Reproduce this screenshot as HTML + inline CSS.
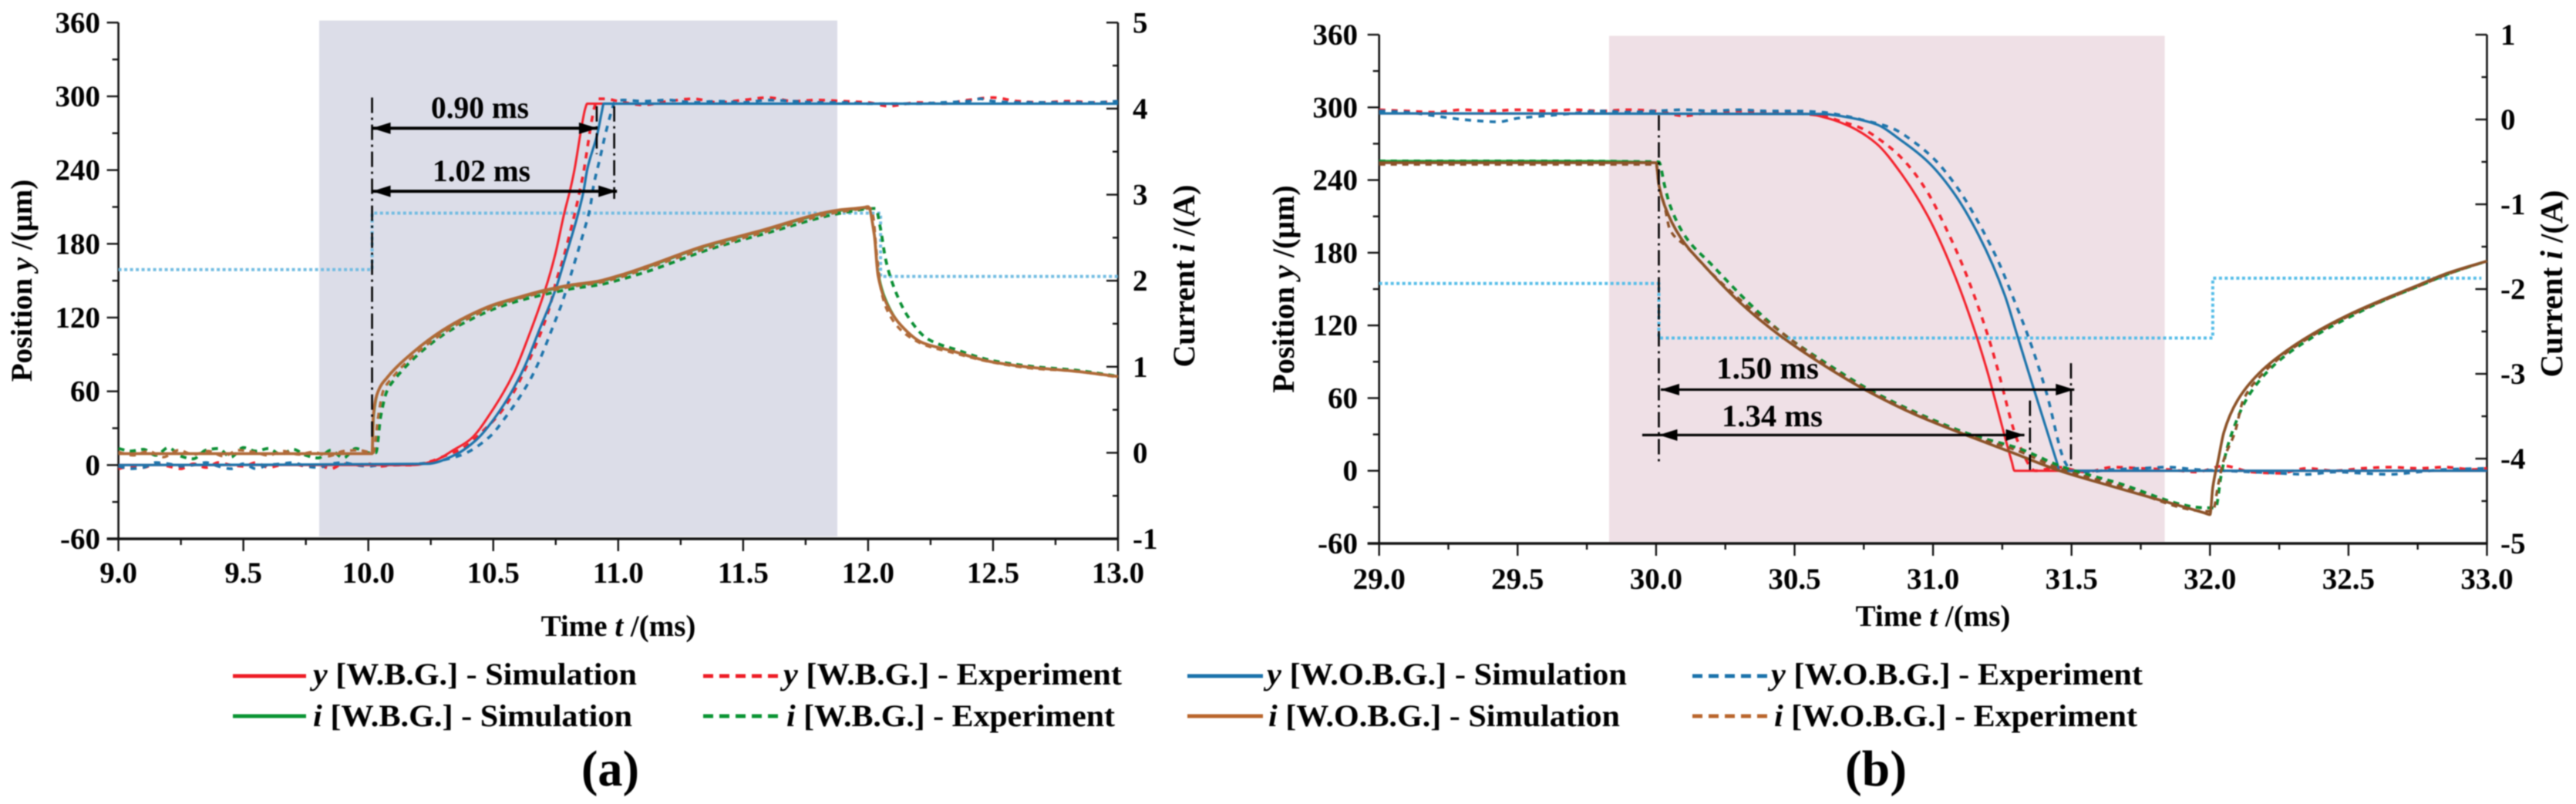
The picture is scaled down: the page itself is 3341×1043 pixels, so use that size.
<!DOCTYPE html>
<html lang="en"><head><meta charset="utf-8"><title>Position and current response</title>
<style>
html,body{margin:0;padding:0;background:#fff}
svg{display:block;filter:blur(0.7px)}
text{font-family:"Liberation Serif",serif;font-weight:bold;fill:#000}
</style></head>
<body>
<svg id="fig" xmlns="http://www.w3.org/2000/svg" width="3341" height="1043" viewBox="0 0 3341 1043">
<rect width="3341" height="1043" fill="#fff"/>
<g id="panelA"></g>
<g id="panelB"></g>

<text x="802" y="825" font-size="39" text-anchor="middle">Time <tspan font-style="italic">t</tspan> /(ms)</text>
<text x="2507" y="812" font-size="39" text-anchor="middle">Time <tspan font-style="italic">t</tspan> /(ms)</text>
<text transform="translate(41,364) rotate(-90)" font-size="39" text-anchor="middle">Position <tspan font-style="italic">y</tspan> /(μm)</text>
<text transform="translate(1549,358) rotate(-90)" font-size="40" text-anchor="middle">Current <tspan font-style="italic">i</tspan> /(A)</text>
<text transform="translate(1678,375) rotate(-90)" font-size="40" text-anchor="middle">Position <tspan font-style="italic">y</tspan> /(μm)</text>
<text transform="translate(3323,368) rotate(-90)" font-size="41" text-anchor="middle">Current <tspan font-style="italic">i</tspan> /(A)</text>

<text x="559" y="153" font-size="40" textLength="127" lengthAdjust="spacingAndGlyphs">0.90 ms</text>
<text x="561" y="235" font-size="40" textLength="127" lengthAdjust="spacingAndGlyphs">1.02 ms</text>
<text x="2226" y="491" font-size="40" textLength="133" lengthAdjust="spacingAndGlyphs">1.50 ms</text>
<text x="2233" y="553" font-size="40" textLength="131" lengthAdjust="spacingAndGlyphs">1.34 ms</text>

<g>
<g><line x1="302" y1="877" x2="397" y2="877" stroke="#ee1c25" stroke-width="5"/><text x="406" y="888" font-size="40" textLength="420" lengthAdjust="spacingAndGlyphs"><tspan font-style="italic">y</tspan> [W.B.G.] - Simulation</text></g>
<g><line x1="912" y1="877" x2="1009" y2="877" stroke="#ee1c25" stroke-width="5" stroke-dasharray="13 8"/><text x="1016" y="888" font-size="40" textLength="439" lengthAdjust="spacingAndGlyphs"><tspan font-style="italic">y</tspan> [W.B.G.] - Experiment</text></g>
<g><line x1="1540" y1="877" x2="1638" y2="877" stroke="#1a72ab" stroke-width="5"/><text x="1643" y="888" font-size="40" textLength="467" lengthAdjust="spacingAndGlyphs"><tspan font-style="italic">y</tspan> [W.O.B.G.] - Simulation</text></g>
<g><line x1="2195" y1="877" x2="2293" y2="877" stroke="#1a72ab" stroke-width="5" stroke-dasharray="13 8"/><text x="2297" y="888" font-size="40" textLength="482" lengthAdjust="spacingAndGlyphs"><tspan font-style="italic">y</tspan> [W.O.B.G.] - Experiment</text></g>
<g><line x1="302" y1="929" x2="397" y2="929" stroke="#0a9433" stroke-width="5"/><text x="406" y="942" font-size="40" textLength="414" lengthAdjust="spacingAndGlyphs"><tspan font-style="italic">i</tspan> [W.B.G.] - Simulation</text></g>
<g><line x1="912" y1="929" x2="1009" y2="929" stroke="#0a9433" stroke-width="5" stroke-dasharray="13 8"/><text x="1020" y="942" font-size="40" textLength="426" lengthAdjust="spacingAndGlyphs"><tspan font-style="italic">i</tspan> [W.B.G.] - Experiment</text></g>
<g><line x1="1540" y1="929" x2="1638" y2="929" stroke="#b9652c" stroke-width="5"/><text x="1645" y="942" font-size="40" textLength="456" lengthAdjust="spacingAndGlyphs"><tspan font-style="italic">i</tspan> [W.O.B.G.] - Simulation</text></g>
<g><line x1="2195" y1="929" x2="2293" y2="929" stroke="#b9652c" stroke-width="5" stroke-dasharray="13 8"/><text x="2301" y="942" font-size="40" textLength="471" lengthAdjust="spacingAndGlyphs"><tspan font-style="italic">i</tspan> [W.O.B.G.] - Experiment</text></g>
</g>
<text x="754" y="1019" font-size="66" textLength="75" lengthAdjust="spacingAndGlyphs">(a)</text>
<text x="2393" y="1019" font-size="66" textLength="80" lengthAdjust="spacingAndGlyphs">(b)</text>
</svg>
<script>
// ---------- Panel (a) data: time in ms, y in um, i in A ----------
const aXTicks=[9,9.5,10,10.5,11,11.5,12,12.5,13];
const aXTickLabels=["9.0","9.5","10.0","10.5","11.0","11.5","12.0","12.5","13.0"];
const aLeftTicks=[-60,0,60,120,180,240,300,360];
const aRightTicks=[-1,0,1,2,3,4,5];

const aYWbgSimT=[9,10.18,10.257,10.344,10.408,10.501,10.583,10.645,10.707,10.748,10.784,10.81,10.825,10.855,10.868,10.876,13];
const aYWbgSimV=[0,0,3,12.6,20.9,46,75.3,106.6,142.1,171.4,204.8,225.8,240.4,277,290,294,294];
const aYNoSimT=[9,10.236,10.344,10.434,10.532,10.624,10.686,10.748,10.789,10.84,10.861,10.876,10.917,10.935,10.942,13];
const aYNoSimV=[0,1,8,20.9,46,79.4,110.8,142.1,169.3,204.8,222.6,240.4,269.7,288,294,294];

const aYWbgExpT=[9,9.05,9.1,9.15,9.2,9.25,9.3,9.35,9.4,9.45,9.5,9.55,9.6,9.65,9.7,9.75,9.8,9.85,9.9,9.95,10,10.05,10.1,10.17,10.25,10.3,10.37,10.46,10.541,10.675,10.727,10.753,10.78,10.806,10.83,10.85,10.861,10.876,10.892,10.907,10.92,10.95,11,11.1,11.2,11.3,11.4,11.5,11.6,11.7,11.8,11.9,12,12.08,12.2,12.3,12.4,12.5,12.6,12.7,12.8,12.9,13];
const aYWbgExpV=[-3,-1,-2,1,-1,-3,1,-2,2,0,-1,2,-2,0,1,-1,0,-3,1,0,1,-1,0,0,3,7,13,28,46,100,129.6,150.5,168,188,208,226.8,238,257,278,292.6,298,298,296,293,296,298,295,297,299,296,297,296,295,292,295,294,297,299,296,295,296,295,296];
const aYNoExpT=[9,9.05,9.1,9.15,9.2,9.25,9.3,9.35,9.4,9.45,9.5,9.55,9.6,9.65,9.7,9.75,9.8,9.85,9.9,9.95,10,10.05,10.1,10.2,10.27,10.37,10.485,10.552,10.609,10.66,10.701,10.737,10.773,10.804,10.832,10.861,10.887,10.902,10.926,10.948,10.974,10.985,11.02,11.1,11.2,11.3,11.4,11.5,11.6,11.7,11.8,11.9,12,12.1,12.2,12.3,12.4,12.45,12.5,12.6,12.7,12.8,12.9,13];
const aYNoExpV=[-1,-3,-2,2,1,-1,0,2,-1,-3,1,-3,0,1,2,-1,-2,1,2,0,-1,0,0,1,3,8,23,39.7,56.4,74.2,93,111.8,130.6,150.5,169.3,189.1,209,227.8,248.7,268.6,288.5,295,297,296,297,295,296,295,297,296,295,295,294,294,294,295,296,298,296,295,295,295,295,296];

const aIWbgSimT=[9,10.015,10.022,10.04,10.074,10.18,10.295,10.398,10.5,10.604,10.707,10.81,10.912,11.015,11.118,11.34,11.556,11.88,11.98,12,12.025,12.04,12.08,12.135,12.217,12.328,12.49,12.66,12.82,13];
const aIWbgSimV=[-0.01,-0.01,0.43,0.72,0.87,1.17,1.41,1.58,1.71,1.8,1.88,1.94,1.98,2.06,2.16,2.39,2.56,2.81,2.84,2.85,2.55,2.1,1.72,1.47,1.28,1.19,1.06,0.99,0.95,0.886];
const aINoSimT=[9,10.015,10.02,10.04,10.074,10.18,10.295,10.398,10.5,10.604,10.707,10.81,10.912,11.015,11.118,11.34,11.556,11.88,11.98,12,12.025,12.04,12.08,12.135,12.217,12.328,12.49,12.66,12.82,13];
const aINoSimV=[-0.01,-0.01,0.43,0.72,0.87,1.17,1.42,1.59,1.72,1.81,1.89,1.95,1.99,2.07,2.17,2.4,2.57,2.82,2.85,2.86,2.53,2.06,1.7,1.47,1.28,1.19,1.06,0.99,0.95,0.886];
const aIWbgExpT=[9,9.05,9.1,9.15,9.2,9.25,9.3,9.35,9.4,9.45,9.5,9.55,9.6,9.65,9.7,9.75,9.8,9.85,9.9,9.95,10,10.03,10.05,10.075,10.11,10.21,10.31,10.41,10.51,10.62,10.72,10.82,10.92,11.03,11.13,11.37,11.59,11.9,12.03,12.05,12.07,12.1,12.16,12.24,12.35,12.5,12.67,12.83,13];
const aIWbgExpV=[0.05,0.02,0.04,-0.03,0.06,-0.04,-0.07,0.03,0.05,-0.05,0.06,0.02,0.05,-0.02,0.04,-0.03,-0.06,0.03,-0.06,0.05,0,0,0.43,0.72,0.87,1.17,1.39,1.55,1.68,1.78,1.85,1.91,1.95,2.03,2.12,2.37,2.55,2.79,2.84,2.6,2.25,1.95,1.58,1.32,1.2,1.07,1,0.96,0.89];
const aINoExpT=[9,9.06,9.12,9.18,9.24,9.3,9.36,9.42,9.48,9.54,9.6,9.66,9.72,9.78,9.84,9.9,9.96,10.02,10.04,10.06,10.095,10.19,10.3,10.4,10.5,10.6,10.71,10.81,10.91,11.02,11.12,11.36,11.58,11.89,12.01,12.02,12.035,12.055,12.09,12.15,12.23,12.33,12.5,12.66,12.82,13];
const aINoExpV=[0.01,-0.03,0.02,-0.05,0.03,-0.02,0.02,-0.04,0.03,0.01,-0.03,0.02,-0.02,0.01,-0.04,0.02,0.03,0,0.43,0.72,0.87,1.15,1.39,1.56,1.69,1.79,1.87,1.93,1.97,2.05,2.15,2.38,2.56,2.8,2.84,2.75,2.3,1.85,1.58,1.38,1.25,1.17,1.05,0.98,0.95,0.88];

const aDriveT=[9,10.015,10.015,12.05,12.05,13];
const aDriveV=[159,159,205,205,153.5,153.5];

// ---------- Panel (b) data ----------
const bXTicks=[29,29.5,30,30.5,31,31.5,32,32.5,33];
const bXTickLabels=["29.0","29.5","30.0","30.5","31.0","31.5","32.0","32.5","33.0"];
const bLeftTicks=[-60,0,60,120,180,240,300,360];
const bRightTicks=[-5,-4,-3,-2,-1,0,1];

const bYWbgSimT=[29,30.54,30.62,30.702,30.795,30.887,30.98,31.073,31.157,31.194,31.285,31.294,31.46,33];
const bYWbgSimV=[295,294.6,291,284,270.2,244.8,210.8,164.2,111.1,83.6,6.8,0,0,0];
const bYNoSimT=[29,30.6,30.702,30.795,30.887,30.98,31.073,31.166,31.259,31.305,31.342,31.447,31.457,33];
const bYNoSimV=[295,294.5,291.4,286,272.4,255.4,230,193.9,145,111,83.6,7,0,0];

const bYWbgExpT=[29,29.1,29.2,29.3,29.4,29.5,29.6,29.7,29.8,29.9,30,30.1,30.2,30.3,30.4,30.5,30.6,30.66,30.739,30.822,30.894,30.98,31.047,31.107,31.158,31.203,31.23,31.31,31.37,31.45,31.55,31.65,31.75,31.85,31.95,32.05,32.15,32.25,32.35,32.45,32.55,32.65,32.75,32.85,32.95,33];
const bYWbgExpV=[298,297,296,298,297,298,297,298,297,298,297,293,296,297,296,295,293,289,283,271,256.4,230,200,169.5,138.7,108,86.7,22,0,3,-1,3,2,1,-1,4,-1,-2,2,0,2,3,2,3,1,2];
const bYNoExpT=[29,29.1,29.2,29.3,29.35,29.43,29.5,29.6,29.7,29.8,29.9,30,30.1,30.2,30.3,30.4,30.5,30.6,30.68,30.757,30.85,30.934,31.008,31.096,31.17,31.236,31.291,31.342,31.375,31.41,31.477,31.5,31.55,31.65,31.75,31.85,31.95,32.05,32.15,32.25,32.35,32.45,32.55,32.65,32.75,32.85,33];
const bYNoExpV=[297,296,293,290,289,288,291,293,295,297,296,297,298,297,298,297,297,296,293,289,283,271,256.4,231,202.4,172.6,141.9,112,90,64,7,0,-1,1,2,3,1,0,-1,-2,-3,-1,-2,-3,-1,1,2];

const bIWbgSimT=[29,29.7,30,30.01,30.03,30.09,30.17,30.31,30.44,30.6,30.754,30.94,31.125,31.29,31.457,31.65,31.98,32,32.01,32.03,32.05,32.1,32.175,32.25,32.37,32.49,32.62,32.74,32.86,33];
const bIWbgSimV=[-0.49,-0.49,-0.51,-0.77,-1.01,-1.4,-1.71,-2.18,-2.53,-2.886,-3.186,-3.486,-3.729,-3.934,-4.143,-4.33,-4.64,-4.66,-4.34,-4.01,-3.69,-3.31,-3,-2.79,-2.53,-2.32,-2.13,-1.97,-1.81,-1.67];
const bINoSimT=[29,30,30.01,30.03,30.09,30.17,30.31,30.44,30.6,30.754,30.94,31.125,31.29,31.457,31.65,31.98,32,32.01,32.03,32.05,32.1,32.175,32.25,32.37,32.49,32.62,32.74,32.86,33];
const bINoSimV=[-0.51,-0.51,-0.77,-1.01,-1.4,-1.71,-2.18,-2.53,-2.886,-3.186,-3.486,-3.729,-3.934,-4.143,-4.33,-4.64,-4.66,-4.34,-4.01,-3.69,-3.31,-3,-2.79,-2.53,-2.32,-2.13,-1.97,-1.81,-1.67];
const bIWbgExpT=[29,29.5,30.01,30.03,30.05,30.11,30.2,30.34,30.46,30.62,30.77,30.96,31.14,31.31,31.47,31.65,31.99,32.02,32.04,32.06,32.08,32.13,32.2,32.27,32.39,32.51,32.63,32.75,32.87,33];
const bIWbgExpV=[-0.49,-0.49,-0.5,-0.77,-1.01,-1.4,-1.71,-2.18,-2.53,-2.886,-3.186,-3.486,-3.72,-3.88,-4.1,-4.27,-4.58,-4.58,-4.2,-3.9,-3.69,-3.31,-3,-2.79,-2.53,-2.32,-2.13,-1.97,-1.81,-1.67];
const bINoExpT=[29,29.2,29.4,29.6,29.8,30,30.01,30.03,30.05,30.11,30.19,30.33,30.46,30.61,30.76,30.95,31.13,31.3,31.46,31.65,31.99,32.01,32.03,32.05,32.09,32.12,32.19,32.26,32.38,32.5,32.63,32.75,32.87,33];
const bINoExpV=[-0.53,-0.53,-0.53,-0.53,-0.53,-0.53,-0.77,-1.01,-1.3,-1.5,-1.78,-2.2,-2.53,-2.886,-3.186,-3.486,-3.729,-3.9,-4.12,-4.3,-4.62,-4.62,-4.3,-4.01,-3.69,-3.31,-3,-2.79,-2.53,-2.32,-2.13,-1.97,-1.81,-1.67];

const bDriveT=[29,30.01,30.01,32.01,32.01,32.98];
const bDriveV=[154.6,154.6,109.6,109.6,159,159];

// Timing annotations (time in ms, position in um)
const aMarkerT=[10.015,10.914,10.984];
const aMarkerFrom=[299,292,292];
const aMarkerTo=[23,253,216.6];
const aSpanFrom=[10.015,10.015];
const aSpanTo=[10.917,10.995];
const aSpanY=[274,222.8];
const aSpanHead=[10.015,10.015];
const bMarkerT=[30.01,31.35,31.498];
const bMarkerFrom=[293.5,58,88.8];
const bMarkerTo=[7.2,0.8,4];
const bSpanFrom=[30.017,29.95];
const bSpanTo=[31.51,31.33];
const bSpanY=[67,29.5];
const bSpanHead=[30.017,30.01];

const NS="http://www.w3.org/2000/svg";
const RED="#f3222c",BLUE="#1d74ab",GREEN="#0a8f33";

function scale(d0,d1,r0,r1){return v=>r0+(v-d0)*(r1-r0)/(d1-d0);}
function mk(parent,tag,attrs){
  const el=document.createElementNS(NS,tag);
  for(const k in attrs)el.setAttribute(k,attrs[k]);
  parent.appendChild(el);
  return el;
}
function line(parent,name,x1,y1,x2,y2,w,extra){
  const el=mk(parent,"line",Object.assign({x1,y1,x2,y2,stroke:"#111","stroke-width":w},extra||{}));
  
  
  return el;
}
function label(parent,name,x,y,str,anchor){
  const el=mk(parent,"text",{x,y,"font-size":39,"text-anchor":anchor});
  el.textContent=str;
  
  
  return el;
}
// Monotone cubic path through the data points; straight segments for step signals.
function pathFor(ts,vs,sx,sy,straight){
  const n=Math.min(ts.length,vs.length),X=[],Y=[];
  for(let i=0;i<n;i++){X.push(sx(ts[i]));Y.push(sy(vs[i]));}
  let d="M"+X[0].toFixed(1)+" "+Y[0].toFixed(1);
  if(straight){for(let i=1;i<n;i++)d+="L"+X[i].toFixed(1)+" "+Y[i].toFixed(1);return d;}
  const h=[],s=[],m=[];
  for(let i=0;i<n-1;i++){h.push(X[i+1]-X[i]);s.push((Y[i+1]-Y[i])/h[i]);}
  m[0]=s[0];m[n-1]=s[n-2];
  for(let i=1;i<n-1;i++){
    if(s[i-1]*s[i]<=0)m[i]=0;
    else{const w1=2*h[i]+h[i-1],w2=h[i]+2*h[i-1];m[i]=(w1+w2)/(w1/s[i-1]+w2/s[i]);}
  }
  for(let i=0;i<n-1;i++){
    d+="C"+(X[i]+h[i]/3).toFixed(1)+" "+(Y[i]+m[i]*h[i]/3).toFixed(1)+" "+(X[i+1]-h[i]/3).toFixed(1)+" "+(Y[i+1]-m[i+1]*h[i]/3).toFixed(1)+" "+X[i+1].toFixed(1)+" "+Y[i+1].toFixed(1);
  }
  return d;
}
function series(parent,name,ts,vs,sx,sy,color,w,dash,straight){
  const attrs={d:pathFor(ts,vs,sx,sy,straight),fill:"none",stroke:color,"stroke-width":w,"stroke-linejoin":"round"};
  if(dash)attrs["stroke-dasharray"]=dash;
  const el=mk(parent,"path",attrs);
  
  
  return el;
}
function head(parent,name,tip,y,dir,len,hh){
  const el=mk(parent,"polygon",{points:tip+","+y+" "+(tip+dir*len)+","+(y-hh)+" "+(tip+dir*len)+","+(y+hh),fill:"#000"});
  
  
}

function panel(c){
  const g=c.root,x=scale(c.x0,c.x1,c.px0,c.px1),yL=scale(-60,360,c.py0,c.py1),yR=scale(c.r0,c.r1,c.py0,c.py1);
  const shade=mk(g,"rect",{x:c.sx0,y:c.sy0,width:c.sx1-c.sx0,height:c.sy1-c.sy0,fill:c.shade});
  
  

  // axes
  line(g,c.id+'-left-y-axis',c.px0,c.py1,c.px0,c.py0+1,2.6);
  line(g,c.id+'-right-y-axis',c.px1,c.py1,c.px1,c.py0+1,2.6);
  line(g,c.id+'-x-axis',c.px0-15,c.py0,c.px1,c.py0,3.6);
  c.left.forEach((v,i)=>{
    line(g,c.id+'-left-major-tick',c.px0-15,yL(v),c.px0,yL(v),2.4);
    label(g,c.id+'-left-tick-label',c.lx,yL(v)+13,String(v),"end");
    if(i<c.left.length-1){const m=(v+c.left[i+1])/2;line(g,c.id+'-left-minor-tick',c.px0-8,yL(m),c.px0,yL(m),2.4);}
  });
  c.right.forEach((v,i)=>{
    line(g,c.id+'-right-major-tick',c.px1-15,yR(v),c.px1,yR(v),2.4);
    label(g,c.id+'-right-tick-label',c.rx,yR(v)+13,String(v),"start");
    if(i<c.right.length-1){const m=(v+c.right[i+1])/2;line(g,c.id+'-right-minor-tick',c.px1-7,yR(m),c.px1,yR(m),2.4);}
  });
  c.xt.forEach((v,i)=>{
    line(g,c.id+'-x-major-tick',x(v),c.py0,x(v),c.py0+16,2.4);
    label(g,c.id+'-x-tick-label',x(v),c.xb,c.xl[i],"middle");
    if(i<c.xt.length-1){const m=(v+c.xt[i+1])/2;line(g,c.id+'-x-minor-tick',x(m),c.py0,x(m),c.py0+8,2.4);}
  });

  // series
  series(g,c.id+'-drive-signal',c.driveT,c.driveV,x,yL,c.driveColor,4,"4 3.5",true);
  series(g,c.id+'-y-wbg-experiment',c.yWe[0],c.yWe[1],x,yL,RED,3.6,"8 8");
  series(g,c.id+'-y-wobg-experiment',c.yNe[0],c.yNe[1],x,yL,BLUE,3.6,"8 8");
  series(g,c.id+'-y-wbg-simulation',c.yWs[0],c.yWs[1],x,yL,RED,3);
  series(g,c.id+'-y-wobg-simulation',c.yNs[0],c.yNs[1],x,yL,BLUE,3.2);
  series(g,c.id+'-i-wbg-simulation',c.iWs[0],c.iWs[1],x,yR,"#14a838",3);
  series(g,c.id+'-i-wbg-experiment',c.iWe[0],c.iWe[1],x,yR,GREEN,3.8,"8 7");
  series(g,c.id+'-i-wobg-experiment',c.iNe[0],c.iNe[1],x,yR,c.orange,3.4,"8 7");
  series(g,c.id+'-i-wobg-simulation',c.iNs[0],c.iNs[1],x,yR,c.orange,c.iWidth);

  // annotations
  c.mT.forEach((t,i)=>{
    line(g,c.id+'-timing-marker',x(t),yL(c.mF[i]),x(t),yL(c.mE[i]),2.6,{"stroke-dasharray":"20 6 3 6",stroke:"#000"});
  });
  c.sF.forEach((t,i)=>{
    const yy=yL(c.sY[i]);
    line(g,c.id+'-timing-span',x(t),yy,x(c.sT[i]),yy,c.spanW,{stroke:"#000"});
    head(g,c.id+'-span-arrow-left',x(c.sH[i]),yy,1,24,7.5);
    head(g,c.id+'-span-arrow-right',x(c.sT[i]),yy,-1,24,7.5);
  });
}

panel({id:"panel-a",root:document.getElementById("panelA"),x0:9,x1:13,px0:153.6,px1:1450,py0:699,py1:29.3,r0:-1,r1:5,
  sx0:414,sx1:1086,sy0:26.6,sy1:695.7,shade:"#dcdde8",left:aLeftTicks,right:aRightTicks,xt:aXTicks,xl:aXTickLabels,
  lx:130,rx:1469,xb:756,orange:"#b06a38",iWidth:3.8,spanW:4,driveColor:"#72bce2",
  driveT:aDriveT,driveV:aDriveV,
  yWs:[aYWbgSimT,aYWbgSimV],yNs:[aYNoSimT,aYNoSimV],yWe:[aYWbgExpT,aYWbgExpV],yNe:[aYNoExpT,aYNoExpV],
  iWs:[aIWbgSimT,aIWbgSimV],iNs:[aINoSimT,aINoSimV],iWe:[aIWbgExpT,aIWbgExpV],iNe:[aINoExpT,aINoExpV],
  mT:aMarkerT,mF:aMarkerFrom,mE:aMarkerTo,sF:aSpanFrom,sT:aSpanTo,sY:aSpanY,sH:aSpanHead});

panel({id:"panel-b",root:document.getElementById("panelB"),x0:29,x1:33,px0:1788.7,px1:3225.5,py0:705,py1:45,r0:-5,r1:1,
  sx0:2087,sx1:2807.6,sy0:46.5,sy1:703,shade:"#efe0e6",left:bLeftTicks,right:bRightTicks,xt:bXTicks,xl:bXTickLabels,
  lx:1761,rx:3243,xb:764,orange:"#8c5228",iWidth:3.6,spanW:3.2,driveColor:"#55bde8",
  driveT:bDriveT,driveV:bDriveV,
  yWs:[bYWbgSimT,bYWbgSimV],yNs:[bYNoSimT,bYNoSimV],yWe:[bYWbgExpT,bYWbgExpV],yNe:[bYNoExpT,bYNoExpV],
  iWs:[bIWbgSimT,bIWbgSimV],iNs:[bINoSimT,bINoSimV],iWe:[bIWbgExpT,bIWbgExpV],iNe:[bINoExpT,bINoExpV],
  mT:bMarkerT,mF:bMarkerFrom,mE:bMarkerTo,sF:bSpanFrom,sT:bSpanTo,sY:bSpanY,sH:bSpanHead});
</script>
</body></html>
